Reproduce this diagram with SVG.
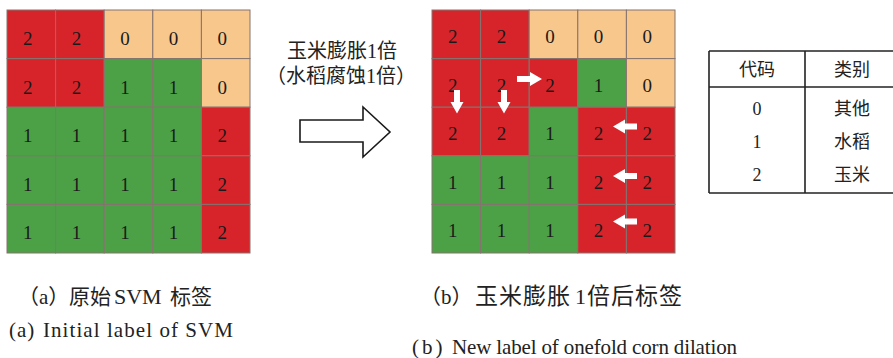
<svg xmlns="http://www.w3.org/2000/svg" width="893" height="358" viewBox="0 0 893 358">
<style>
.r{fill:#d7242a}
.g{fill:#4ca146}
.p{fill:#f8c78c}
.c{stroke:#85736f;stroke-width:1}
.n{font-family:"Liberation Serif","Noto Sans CJK SC",serif;font-size:19px;fill:#1a1a1a;text-anchor:middle}
.w{fill:#ffffff}
.t{font-family:"Liberation Serif","Noto Sans CJK SC",serif;font-size:18px;fill:#222;text-anchor:middle}
.t2{font-family:"Liberation Serif","Noto Sans CJK SC",serif;font-size:20px;fill:#222;text-anchor:middle}
.cap{font-family:"Liberation Serif","Noto Sans CJK SC",serif;font-size:21px;fill:#222}
.tb{stroke:#222;stroke-width:1.6;fill:none}
</style>
<rect width="893" height="358" fill="#ffffff"/>

<g id="grid-a">
<rect class="r c" x="7" y="10" width="48.6" height="48.6"/>
<rect class="r c" x="55.6" y="10" width="48.6" height="48.6"/>
<rect class="p c" x="104.2" y="10" width="48.6" height="48.6"/>
<rect class="p c" x="152.8" y="10" width="48.6" height="48.6"/>
<rect class="p c" x="201.4" y="10" width="48.6" height="48.6"/>
<rect class="r c" x="7" y="58.6" width="48.6" height="48.6"/>
<rect class="r c" x="55.6" y="58.6" width="48.6" height="48.6"/>
<rect class="g c" x="104.2" y="58.6" width="48.6" height="48.6"/>
<rect class="g c" x="152.8" y="58.6" width="48.6" height="48.6"/>
<rect class="p c" x="201.4" y="58.6" width="48.6" height="48.6"/>
<rect class="g c" x="7" y="107.2" width="48.6" height="48.6"/>
<rect class="g c" x="55.6" y="107.2" width="48.6" height="48.6"/>
<rect class="g c" x="104.2" y="107.2" width="48.6" height="48.6"/>
<rect class="g c" x="152.8" y="107.2" width="48.6" height="48.6"/>
<rect class="r c" x="201.4" y="107.2" width="48.6" height="48.6"/>
<rect class="g c" x="7" y="155.8" width="48.6" height="48.6"/>
<rect class="g c" x="55.6" y="155.8" width="48.6" height="48.6"/>
<rect class="g c" x="104.2" y="155.8" width="48.6" height="48.6"/>
<rect class="g c" x="152.8" y="155.8" width="48.6" height="48.6"/>
<rect class="r c" x="201.4" y="155.8" width="48.6" height="48.6"/>
<rect class="g c" x="7" y="204.4" width="48.6" height="48.6"/>
<rect class="g c" x="55.6" y="204.4" width="48.6" height="48.6"/>
<rect class="g c" x="104.2" y="204.4" width="48.6" height="48.6"/>
<rect class="g c" x="152.8" y="204.4" width="48.6" height="48.6"/>
<rect class="r c" x="201.4" y="204.4" width="48.6" height="48.6"/>
<text class="n" x="27.8" y="45">2</text><text class="n" x="76.4" y="45">2</text><text class="n" x="125" y="45">0</text><text class="n" x="173.6" y="45">0</text><text class="n" x="222.2" y="45">0</text>
<text class="n" x="27.8" y="93.6">2</text><text class="n" x="76.4" y="93.6">2</text><text class="n" x="125" y="93.6">1</text><text class="n" x="173.6" y="93.6">1</text><text class="n" x="222.2" y="93.6">0</text>
<text class="n" x="27.8" y="142.2">1</text><text class="n" x="76.4" y="142.2">1</text><text class="n" x="125" y="142.2">1</text><text class="n" x="173.6" y="142.2">1</text><text class="n" x="222.2" y="142.2">2</text>
<text class="n" x="27.8" y="190.8">1</text><text class="n" x="76.4" y="190.8">1</text><text class="n" x="125" y="190.8">1</text><text class="n" x="173.6" y="190.8">1</text><text class="n" x="222.2" y="190.8">2</text>
<text class="n" x="27.8" y="239.4">1</text><text class="n" x="76.4" y="239.4">1</text><text class="n" x="125" y="239.4">1</text><text class="n" x="173.6" y="239.4">1</text><text class="n" x="222.2" y="239.4">2</text>
</g>

<g id="transform-arrow">
<polygon points="300,120 363,120 363,107 390,132 363,157 363,142 300,142" fill="#ffffff" stroke="#1a1a1a" stroke-width="1.6" stroke-linejoin="miter"/>
<text class="t2" x="342" y="58">玉米膨胀1倍</text>
<text class="t2" x="341" y="83">（水稻腐蚀1倍）</text>
</g>

<g id="grid-b">
<rect class="r c" x="432" y="10" width="48.6" height="48.6"/>
<rect class="r c" x="480.6" y="10" width="48.6" height="48.6"/>
<rect class="p c" x="529.2" y="10" width="48.6" height="48.6"/>
<rect class="p c" x="577.8" y="10" width="48.6" height="48.6"/>
<rect class="p c" x="626.4" y="10" width="48.6" height="48.6"/>
<rect class="r c" x="432" y="58.6" width="48.6" height="48.6"/>
<rect class="r c" x="480.6" y="58.6" width="48.6" height="48.6"/>
<rect class="r c" x="529.2" y="58.6" width="48.6" height="48.6"/>
<rect class="g c" x="577.8" y="58.6" width="48.6" height="48.6"/>
<rect class="p c" x="626.4" y="58.6" width="48.6" height="48.6"/>
<rect class="r c" x="432" y="107.2" width="48.6" height="48.6"/>
<rect class="r c" x="480.6" y="107.2" width="48.6" height="48.6"/>
<rect class="g c" x="529.2" y="107.2" width="48.6" height="48.6"/>
<rect class="r c" x="577.8" y="107.2" width="48.6" height="48.6"/>
<rect class="r c" x="626.4" y="107.2" width="48.6" height="48.6"/>
<rect class="g c" x="432" y="155.8" width="48.6" height="48.6"/>
<rect class="g c" x="480.6" y="155.8" width="48.6" height="48.6"/>
<rect class="g c" x="529.2" y="155.8" width="48.6" height="48.6"/>
<rect class="r c" x="577.8" y="155.8" width="48.6" height="48.6"/>
<rect class="r c" x="626.4" y="155.8" width="48.6" height="48.6"/>
<rect class="g c" x="432" y="204.4" width="48.6" height="48.6"/>
<rect class="g c" x="480.6" y="204.4" width="48.6" height="48.6"/>
<rect class="g c" x="529.2" y="204.4" width="48.6" height="48.6"/>
<rect class="r c" x="577.8" y="204.4" width="48.6" height="48.6"/>
<rect class="r c" x="626.4" y="204.4" width="48.6" height="48.6"/>
<text class="n" x="452.8" y="43">2</text><text class="n" x="501.4" y="43">2</text><text class="n" x="550" y="43">0</text><text class="n" x="598.6" y="43">0</text><text class="n" x="647.2" y="43">0</text>
<text class="n" x="452.8" y="91.6">2</text><text class="n" x="501.4" y="91.6">2</text><text class="n" x="550" y="91.6">2</text><text class="n" x="598.6" y="91.6">1</text><text class="n" x="647.2" y="91.6">0</text>
<text class="n" x="452.8" y="140.2">2</text><text class="n" x="501.4" y="140.2">2</text><text class="n" x="550" y="140.2">1</text><text class="n" x="598.6" y="140.2">2</text><text class="n" x="647.2" y="140.2">2</text>
<text class="n" x="452.8" y="188.8">1</text><text class="n" x="501.4" y="188.8">1</text><text class="n" x="550" y="188.8">1</text><text class="n" x="598.6" y="188.8">2</text><text class="n" x="647.2" y="188.8">2</text>
<text class="n" x="452.8" y="237.4">1</text><text class="n" x="501.4" y="237.4">1</text><text class="n" x="550" y="237.4">1</text><text class="n" x="598.6" y="237.4">2</text><text class="n" x="647.2" y="237.4">2</text>
</g>

<g id="connectors">
<polygon class="w" points="517,76 530,76 530,72 542,79 530,86 530,82 517,82"/>
<polygon class="w" points="454,90 460,90 460,102 463.5,102 457,113.5 450.5,102 454,102"/>
<polygon class="w" points="501,90 507,90 507,102 510.5,102 504,113.5 497.5,102 501,102"/>
<polygon class="w" points="637,123.5 625,123.5 625,119.5 613,126.5 625,133.5 625,129.5 637,129.5"/>
<polygon class="w" points="637,173 625,173 625,169 613,176 625,183 625,179 637,179"/>
<polygon class="w" points="637,218.5 625,218.5 625,214.5 613,221.5 625,228.5 625,224.5 637,224.5"/>
</g>

<g id="legend-table">
<line class="tb" x1="709" y1="51" x2="893" y2="51"/>
<line class="tb" x1="709" y1="87" x2="893" y2="87"/>
<line class="tb" x1="709" y1="193" x2="893" y2="193"/>
<line class="tb" x1="709" y1="51" x2="709" y2="193"/>
<line class="tb" x1="805" y1="51" x2="805" y2="193"/>
<text class="t" x="757" y="76">代码</text>
<text class="t" x="852" y="76">类别</text>
<text class="t" x="757" y="115">0</text>
<text class="t" x="852" y="115">其他</text>
<text class="t" x="757" y="148">1</text>
<text class="t" x="852" y="148">水稻</text>
<text class="t" x="757" y="181">2</text>
<text class="t" x="852" y="181">玉米</text>
</g>

<g id="captions">
<text class="cap" y="304"><tspan x="18">（a）</tspan><tspan x="69">原始</tspan><tspan x="114" font-size="22">SVM</tspan><tspan x="170">标签</tspan></text>
<text class="cap" y="337" font-size="22"><tspan x="9" letter-spacing="1">(a)</tspan><tspan x="43" textLength="190" lengthAdjust="spacing">Initial label of SVM</tspan></text>
<text class="cap" y="304"><tspan x="420">（b）</tspan><tspan x="475" font-size="23" textLength="95" lengthAdjust="spacing">玉米膨胀</tspan><tspan x="575" font-size="22">1</tspan><tspan x="587" font-size="23" textLength="95" lengthAdjust="spacing">倍后标签</tspan></text>
<text class="cap" y="354"><tspan x="412" letter-spacing="3">(b)</tspan><tspan x="452" textLength="285" lengthAdjust="spacing">New label of onefold corn dilation</tspan></text>
</g>
</svg>
